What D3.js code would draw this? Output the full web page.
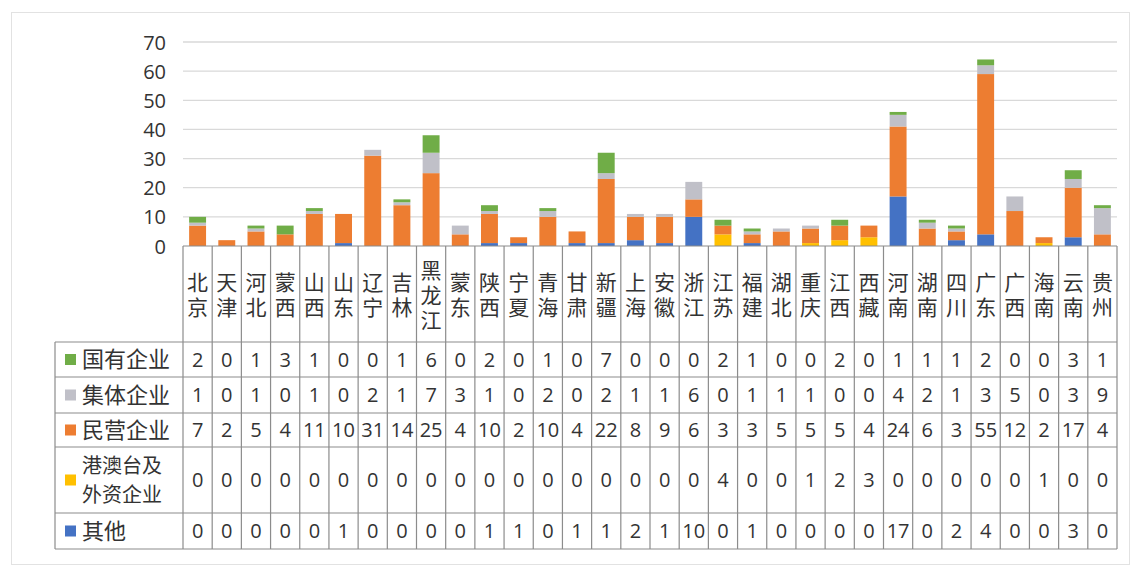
<!DOCTYPE html>
<html><head><meta charset="utf-8">
<script src="https://cdn.jsdelivr.net/npm/d3@7"></script>
<style>body{margin:0;background:#fff}svg{display:block}</style>
</head><body>
<script>
const categories = ["北京","天津","河北","蒙西","山西","山东","辽宁","吉林","黑龙江","蒙东","陕西","宁夏","青海","甘肃","新疆","上海","安徽","浙江","江苏","福建","湖北","重庆","江西","西藏","河南","湖南","四川","广东","广西","海南","云南","贵州"];
const seriesNames = ["国有企业","集体企业","民营企业","港澳台及外资企业","其他"];
const legendLines = [["国有企业"],["集体企业"],["民营企业"],["港澳台及","外资企业"],["其他"]];
const stateOwned = [2,0,1,3,1,0,0,1,6,0,2,0,1,0,7,0,0,0,2,1,0,0,2,0,1,1,1,2,0,0,3,1];
const collective = [1,0,1,0,1,0,2,1,7,3,1,0,2,0,2,1,1,6,0,1,1,1,0,0,4,2,1,3,5,0,3,9];
const privateEnt = [7,2,5,4,11,10,31,14,25,4,10,2,10,4,22,8,9,6,3,3,5,5,5,4,24,6,3,55,12,2,17,4];
const foreignEnt = [0,0,0,0,0,0,0,0,0,0,0,0,0,0,0,0,0,0,4,0,0,1,2,3,0,0,0,0,0,1,0,0];
const others     = [0,0,0,0,0,1,0,0,0,0,1,1,0,1,1,2,1,10,0,1,0,0,0,0,17,0,2,4,0,0,3,0];
const yTicks = [0,10,20,30,40,50,60,70];
const colors = ["#70AD47","#C0C0C8","#ED7D31","#FFC000","#4472C4"];

const seriesValues = [stateOwned, collective, privateEnt, foreignEnt, others];
const W = 1135, H = 574;
const svg = d3.select("body").append("svg").attr("width", W).attr("height", H);
const cjk = "'Noto Sans CJK SC','Noto Sans',sans-serif";
const num = "'Open Sans','Noto Sans',sans-serif";

svg.append("rect").attr("x",11.5).attr("y",12.5).attr("width",1118).attr("height",552)
  .attr("fill","none").attr("stroke","#e2e2e2");

const plotL = 183, plotR = 1117, y0 = 246, yTop = 42;
const x = d3.scaleBand().domain(categories).range([plotL, plotR]).paddingInner(0).paddingOuter(0);
const y = d3.scaleLinear().domain([0,70]).range([y0, yTop]);

svg.append("g").selectAll("line").data(yTicks.filter(t=>t>0)).join("line")
  .attr("x1",plotL).attr("x2",plotR).attr("y1",d=>y(d)).attr("y2",d=>y(d))
  .attr("stroke","#d9d9d9").attr("stroke-width",1.3);

const yAxis = d3.axisLeft(y).tickValues(yTicks).tickSize(0).tickPadding(0);
const ya = svg.append("g").attr("transform",`translate(166,0)`).call(yAxis);
ya.select(".domain").remove();
ya.selectAll("text").attr("font-family",num).attr("font-size",20).attr("fill","#333").attr("dy","0.35em");

const rows = categories.map((c,i)=>{const o={cat:c}; seriesNames.forEach((s,k)=>o[s]=seriesValues[k][i]); return o;});
const stackOrder = ["其他","港澳台及外资企业","民营企业","集体企业","国有企业"];
const stack = d3.stack().keys(stackOrder)(rows);
const color = d3.scaleOrdinal().domain(seriesNames).range(colors);
const bw = x.bandwidth()*0.58;
svg.append("g").selectAll("g").data(stack).join("g").attr("fill",d=>color(d.key))
  .selectAll("rect").data(d=>d).join("rect")
  .attr("x",d=>x(d.data.cat)+(x.bandwidth()-bw)/2).attr("width",bw)
  .attr("y",d=>y(d[1])).attr("height",d=>y(d[0])-y(d[1]));

const rowEdges = [246,342,377,413,447,513,549];
const legL = 55;
const g = svg.append("g").attr("stroke","#8c8c8c").attr("stroke-width",1.2);
g.append("line").attr("x1",plotL).attr("x2",plotR).attr("y1",rowEdges[0]).attr("y2",rowEdges[0]);
rowEdges.slice(1).forEach(ry=>g.append("line").attr("x1",legL).attr("x2",plotR).attr("y1",ry).attr("y2",ry));
categories.forEach(c=>g.append("line").attr("x1",x(c)).attr("x2",x(c)).attr("y1",rowEdges[0]).attr("y2",rowEdges[6]));
g.append("line").attr("x1",plotR).attr("x2",plotR).attr("y1",rowEdges[0]).attr("y2",rowEdges[6]);
g.append("line").attr("x1",legL).attr("x2",legL).attr("y1",rowEdges[1]).attr("y2",rowEdges[6]);

// category headers: vertical writing mode, one text element each
const hdrFont = 21, gap = 4;
const hdr = svg.append("g").attr("font-family",cjk).attr("font-size",hdrFont).attr("fill","#333");
categories.forEach(c=>{
  const n = Array.from(c).length;
  const total = n*hdrFont + (n-1)*gap;
  const cy = (rowEdges[0]+rowEdges[1])/2 + 1;
  hdr.append("text")
    .attr("x", x(c)+x.bandwidth()/2)
    .attr("y", cy - total/2)
    .style("writing-mode","vertical-rl")
    .style("letter-spacing", gap+"px")
    .attr("dominant-baseline","central")
    .text(c);
});

seriesNames.forEach((s,k)=>{
  const top = rowEdges[k+1], bot = rowEdges[k+2], cy=(top+bot)/2;
  svg.append("rect").attr("x",65).attr("y",cy-5.5).attr("width",11).attr("height",11).attr("fill",colors[k]);
  const lines = legendLines[k];
  const multi = lines.length > 1;
  const fs = multi ? 20 : 22, lsp = 29;
  lines.forEach((ln,j)=>{
    svg.append("text").attr("x",82).attr("y",cy+(j-(lines.length-1)/2)*lsp).attr("dy","0.36em")
      .attr("font-family",cjk).attr("font-size",fs).attr("fill","#333").text(ln);
  });
  svg.append("g").selectAll("text").data(seriesValues[k]).join("text")
    .attr("x",(d,i)=>x(categories[i])+x.bandwidth()/2).attr("y",cy).attr("dy","0.36em")
    .attr("text-anchor","middle").attr("font-family",num).attr("font-size",20).attr("fill","#333")
    .text(d=>d);
});
</script>
</body></html>
